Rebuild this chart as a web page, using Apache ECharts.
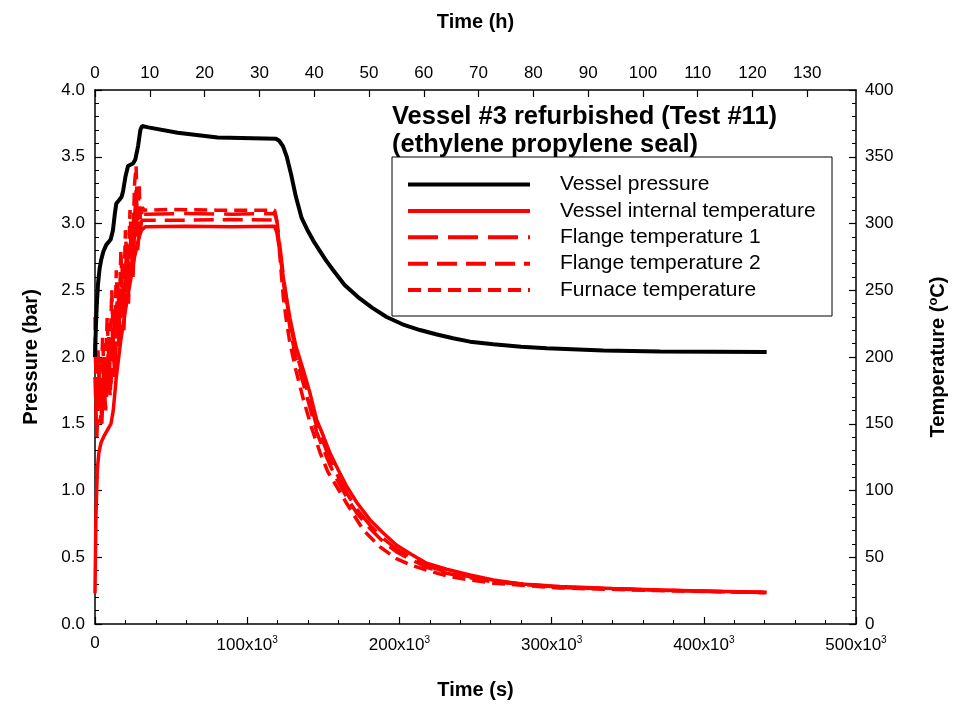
<!DOCTYPE html>
<html><head><meta charset="utf-8">
<script src="https://cdn.jsdelivr.net/npm/echarts@6/dist/echarts.min.js"></script>
<style>html,body{margin:0;padding:0;background:#fff}#c{width:953px;height:706px}</style>
</head><body><div id="c"></div>
<script>
// ---- data (time in s) ----
const pressureTime = [0,500,1200,2000,3000,4100,5500,7400,10300,11800,13000,14000,16200,17500,18400,20000,21700,25000,26500,28300,29800,30900,35000,54300,80600,118900,121000,123500,126000,128800,132000,135800,140100,144000,148000,152000,156400,164000,172800,182000,191600,202000,213500,224000,235200,246400,261700,280000,296800,334000,371200,441300];
const pressureVal  = [2.0,2.2,2.4,2.55,2.66,2.73,2.79,2.84,2.88,2.95,3.07,3.15,3.18,3.2,3.24,3.35,3.43,3.45,3.48,3.58,3.70,3.73,3.72,3.68,3.645,3.635,3.62,3.58,3.50,3.37,3.20,3.04,2.94,2.86,2.79,2.72,2.652,2.54,2.449,2.37,2.30,2.245,2.202,2.17,2.14,2.115,2.095,2.077,2.065,2.048,2.041,2.037];

const internalTime = [0,600,1500,2500,4000,6000,8500,10500,12000,14000,17000,20000,23000,26000,28500,30500,33000,60000,90000,118000,119500,121000,122500,124000,126000,128100,132000,136900,141000,145600,150000,154400,160000,165400,172000,180700,189000,198200,208000,217900,231000,246400,261700,280000,305500,340000,371200,405000,441300];
const internalVal  = [23,80,115,128,136,141,146,150,160,185,213,235,255,275,288,295,297.5,298,297.5,298,293,282,270,257,243,229,208,190,174,153,141,128,115,103,91,78,68.5,59,52,45.5,41,36.7,33,30,28,26.5,25.5,24.5,23.7];

const flange1Time = [0,1500,3000,4500,6000,7500,9000,10500,12000,13500,15000,16500,18000,19500,21000,22500,24000,25500,27000,28500,30000,31500,60000,90000,118000,119500,121000,122500,124000,126000,128100,132000,136900,141000,145600,150000,154400,160000,165400,172000,180700,189000,198200,208000,217900,231000,246400,262000,305000,371000,441000];
const flange1Val  = [210,165,195,150,200,170,215,180,235,200,255,215,270,235,285,255,300,275,325,290,302,307,307.5,307,307.5,302,288,273,258,242,226,204,185,168,148,136,123,110,98,86,74,64.5,56,49.5,43.5,39,35.3,32,27.6,25.3,23.6];

const flange2Time = [0,1200,2500,4000,5500,7000,8500,10000,11500,13000,14500,16000,17500,19000,20500,22000,23500,25000,26500,28000,29500,31000,60000,90000,118000,119500,121000,122500,124000,126000,128100,132000,136900,141000,145600,150000,154400,160000,165400,172000,180700,189000,198200,208000,217900,231000,246400,262000,305000,371000,441000];
const flange2Val  = [185,140,180,150,190,160,200,170,220,185,240,205,260,220,275,240,290,260,315,280,298,302.5,302.5,303,302.5,297,284,269,254,238,222,199,180,163,144,131,119,106,95,83,71.5,62,54,48,42.5,38,34.7,31.5,27.4,25.2,23.5];

const furnaceTime = [0,1000,2000,3500,5000,6500,8000,9500,11000,12500,14000,15500,17000,18500,20000,21500,23000,24500,26000,27000,28000,29000,30000,31000,32500,50000,80000,118000,119000,120500,122000,123700,126000,128000,132000,137000,142000,148000,153000,158800,165000,176300,187000,198000,208000,217900,231000,246400,262000,305000,371000,441000];
const furnaceVal  = [230,150,205,160,215,170,230,185,250,195,265,210,280,230,295,250,310,270,330,343,300,330,295,312,310,310.5,310,310,305,290,268,245,225,211,190,168,148,128,114,103,91,70.4,58,49,44,40.4,36,33,30.5,27,25,23.5];

const seriesNames = ['Vessel pressure','Vessel internal temperature','Flange temperature 1','Flange temperature 2','Furnace temperature'];

const zip = (a,b) => a.map((t,i)=>[t,b[i]]);
const FONT = 'Liberation Sans, Arial, sans-serif';

const chart = echarts.init(document.getElementById('c'), null, {renderer:'canvas'});
const axisLine = {show:true, onZero:false, lineStyle:{color:'#000', width:1.5}};
const tickIn = {show:true, inside:true, length:7, lineStyle:{color:'#000', width:1.2}};
const minorIn = {show:true, splitNumber:5, length:4, lineStyle:{color:'#000', width:1}};
const lbl = {color:'#000', fontSize:17, fontFamily:FONT};
const nameStyle = {color:'#000', fontSize:20, fontWeight:'bold', fontFamily:FONT};

chart.setOption({
  animation:false,
  backgroundColor:'#fff',
  title:{
    text:'Vessel #3 refurbished (Test #11)\n(ethylene propylene seal)',
    left:387, top:98,
    textStyle:{color:'#000', fontSize:25.5, fontWeight:'bold', fontFamily:FONT, lineHeight:28}
  },
  legend:{
    orient:'vertical', left:406, top:174, padding:0,
    data:seriesNames,
    itemWidth:122, itemHeight:20, itemGap:5.4,
    itemStyle:{opacity:0},
    lineStyle:{width:4},
    textStyle:{color:'#000', fontSize:21, fontFamily:FONT, lineHeight:20, padding:[0,0,0,25]},
    selectedMode:false
  },
  graphic:[{type:'rect', shape:{x:392, y:157, width:440, height:159}, style:{fill:'none', stroke:'#000', lineWidth:1}, z:0}],
  grid:{left:95, right:97, top:90, bottom:82, containLabel:false, outerBoundsMode:'none'},
  xAxis:[
    {type:'value', position:'bottom', min:0, max:500000, interval:100000,
     axisLine, axisTick:tickIn, minorTick:minorIn, splitLine:{show:false},
     axisLabel:{...lbl, margin:11,
       formatter:v => v===0 ? '0' : '{n|'+(v/1000)+'x10}{s|3}',
       rich:{n:{fontSize:17, fontFamily:FONT, color:'#000', lineHeight:20}, s:{fontSize:10, fontFamily:FONT, color:'#000', lineHeight:10, verticalAlign:'top'}}},
     name:'Time (s)', nameLocation:'middle', nameGap:56, nameTextStyle:nameStyle},
    {type:'value', position:'top', min:0, max:500000/3600, interval:10,
     axisLine, axisTick:tickIn, splitLine:{show:false},
     axisLabel:{...lbl, margin:8, showMaxLabel:false, formatter:v => (Math.abs(v-Math.round(v))<1e-6 ? String(Math.round(v)) : '')},
     name:'Time (h)', nameLocation:'middle', nameGap:58, nameTextStyle:nameStyle}
  ],
  yAxis:[
    {type:'value', position:'left', min:0, max:4, interval:0.5,
     axisLine, axisTick:tickIn, minorTick:minorIn, splitLine:{show:false},
     axisLabel:{...lbl, margin:10, formatter:v=>v.toFixed(1)},
     name:'Pressure (bar)', nameLocation:'middle', nameGap:54, nameRotate:90, nameTextStyle:nameStyle},
    {type:'value', position:'right', min:0, max:400, interval:50,
     axisLine, axisTick:tickIn, minorTick:minorIn, splitLine:{show:false},
     axisLabel:{...lbl, margin:9},
     name:'{a|Temperature (}{s|o}{a|C)}', nameLocation:'middle', nameGap:71, nameRotate:90,
     nameTextStyle:{...nameStyle, rich:{a:{fontSize:20, fontWeight:'bold', fontFamily:FONT, color:'#000', lineHeight:22}, s:{fontSize:13, fontWeight:'bold', fontFamily:FONT, color:'#000', lineHeight:13, verticalAlign:'top'}}}}
  ],
  series:[
    {name:seriesNames[1], type:'line', xAxisIndex:0, yAxisIndex:1, data:zip(internalTime, internalVal), symbol:'none', lineStyle:{color:'#ff0000', width:3.5}, itemStyle:{color:'#ff0000'}},
    {name:seriesNames[2], type:'line', xAxisIndex:0, yAxisIndex:1, data:zip(flange1Time, flange1Val), symbol:'none', lineStyle:{color:'#ff0000', width:3.5, type:[30,10]}, itemStyle:{color:'#ff0000'}},
    {name:seriesNames[3], type:'line', xAxisIndex:0, yAxisIndex:1, data:zip(flange2Time, flange2Val), symbol:'none', lineStyle:{color:'#ff0000', width:3.5, type:[20,9]}, itemStyle:{color:'#ff0000'}},
    {name:seriesNames[4], type:'line', xAxisIndex:0, yAxisIndex:1, data:zip(furnaceTime, furnaceVal), symbol:'none', lineStyle:{color:'#ff0000', width:3.5, type:[13,7]}, itemStyle:{color:'#ff0000'}},
    {name:seriesNames[0], type:'line', xAxisIndex:0, yAxisIndex:0, data:zip(pressureTime, pressureVal), symbol:'none', lineStyle:{color:'#000', width:4}, itemStyle:{color:'#000'}, z:3}
  ]
});
</script></body></html>
